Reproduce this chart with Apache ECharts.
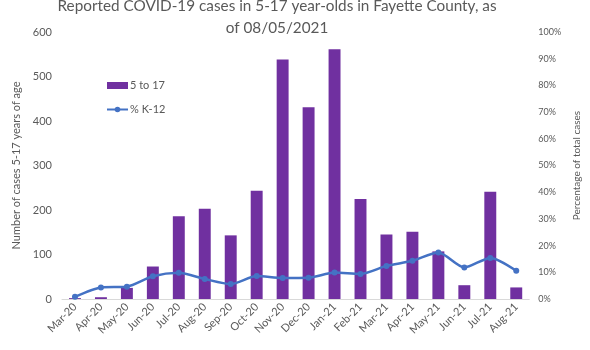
<!DOCTYPE html>
<html><head><meta charset="utf-8">
<script src="https://cdn.jsdelivr.net/npm/echarts@6/dist/echarts.min.js"></script>
<style>html,body{margin:0;padding:0;background:#fff}#c{width:590px;height:350px}</style>
</head><body><div id="c"></div>
<script>
const categories = ['Mar-20','Apr-20','May-20','Jun-20','Jul-20','Aug-20','Sep-20','Oct-20','Nov-20','Dec-20','Jan-21','Feb-21','Mar-21','Apr-21','May-21','Jun-21','Jul-21','Aug-21'];
const cases5to17 = [2,4,25,73,186,203,143,243,538,431,561,225,145,151,107,31,241,26];
const pctK12 = [0.8,4.3,4.6,8.5,9.8,7.5,5.6,8.6,7.9,8.0,9.9,9.4,12.4,14.3,17.4,11.8,15.4,10.6];
const leftTicks = [0,100,200,300,400,500,600];
const rightTicks = [0,10,20,30,40,50,60,70,80,90,100];

const font = 'Lato, "Open Sans", sans-serif';
const grey = '#595959';
const chart = echarts.init(document.getElementById('c'));
chart.setOption({
  animation: false,
  title: {
    text: 'Reported COVID-19 cases in 5-17 year-olds in Fayette County, as\nof 08/05/2021',
    left: 272, top: -10, textAlign: 'center',
    textStyle: { fontFamily: font, fontSize: 15.3, fontWeight: 'normal', color: grey, lineHeight: 22 }
  },
  legend: {
    orient: 'vertical', left: 101, top: 75, itemGap: 13,
    itemWidth: 21, itemHeight: 7,
    textStyle: { fontFamily: font, fontSize: 11, color: grey, padding: [0, 0, 0, -3] },
    data: [{ name: '5 to 17', icon: 'rect' }, { name: '% K-12' }]
  },
  grid: { left: 62, right: 54, top: 32, bottom: 51 },
  xAxis: {
    type: 'category', data: categories,
    axisLine: { lineStyle: { color: '#d9d9d9' } },
    axisTick: { show: false },
    axisLabel: { rotate: 45, fontFamily: font, fontSize: 11, color: grey, margin: 6, interval: 0 }
  },
  yAxis: [{
    type: 'value', min: leftTicks[0], max: leftTicks[leftTicks.length-1], interval: 100,
    name: 'Number of cases 5-17 years of age', nameLocation: 'middle', nameGap: 40, nameRotate: 90,
    nameTextStyle: { fontFamily: font, fontSize: 11, color: grey },
    axisLine: { show: false }, axisTick: { show: false }, splitLine: { show: false },
    axisLabel: { fontFamily: font, fontSize: 11, color: grey, margin: 10 }
  }, {
    type: 'value', min: rightTicks[0], max: rightTicks[rightTicks.length-1], interval: 10,
    name: 'Percentage of total cases', nameLocation: 'middle', nameGap: 41, nameRotate: 90,
    nameTextStyle: { fontFamily: font, fontSize: 10, color: grey },
    axisLine: { show: false }, axisTick: { show: false }, splitLine: { show: false },
    axisLabel: { fontFamily: font, fontSize: 9, color: grey, margin: 9, formatter: '{value}%' }
  }],
  series: [{
    name: '5 to 17', type: 'bar', data: cases5to17, barWidth: '46%',
    itemStyle: { color: '#7030A0' }
  }, {
    name: '% K-12', type: 'line', yAxisIndex: 1, data: pctK12, smooth: 0.25,
    symbol: 'circle', symbolSize: 6,
    lineStyle: { color: '#4472C4', width: 2.5 }, itemStyle: { color: '#4472C4' }
  }]
});
</script></body></html>
